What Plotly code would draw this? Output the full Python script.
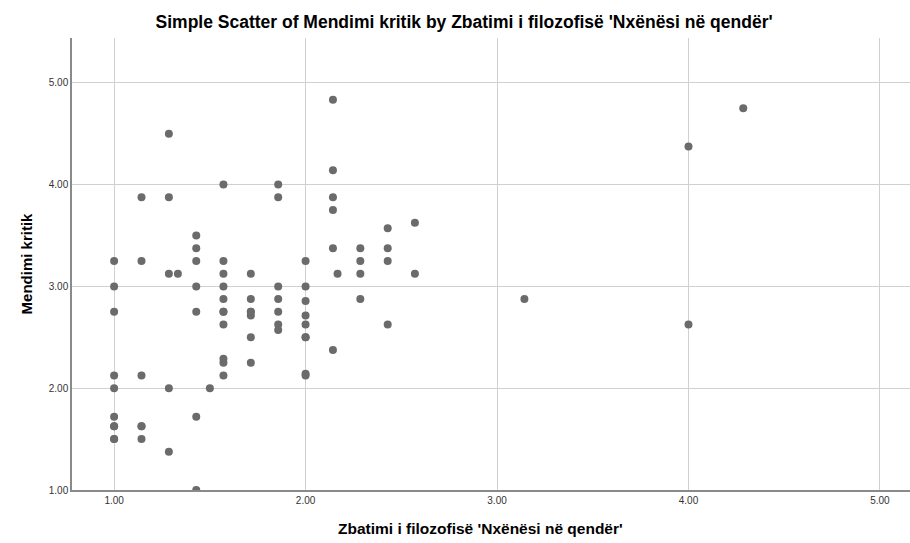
import plotly.graph_objects as go

# Zbatimi i filozofisë 'Nxënësi në qendër' (x) vs Mendimi kritik (y)
zbatimi = [
    1.0, 1.0, 1.0, 1.0, 1.0, 1.0, 1.0, 1.0, 1.0, 1.0,
    1.143, 1.143, 1.143, 1.143, 1.143, 1.143,
    1.286, 1.286, 1.286, 1.286, 1.286,
    1.333,
    1.429, 1.429, 1.429, 1.429, 1.429, 1.429, 1.429,
    1.5,
    1.571, 1.571, 1.571, 1.571, 1.571, 1.571, 1.571, 1.571, 1.571, 1.571, 1.571,
    1.714, 1.714, 1.714, 1.714, 1.714, 1.714, 1.714,
    1.857, 1.857, 1.857, 1.857, 1.857, 1.857, 1.857,
    2.0, 2.0, 2.0, 2.0, 2.0, 2.0, 2.0, 2.0, 2.0,
    2.143, 2.143, 2.143, 2.143, 2.143, 2.143,
    2.167,
    2.286, 2.286, 2.286, 2.286,
    2.429, 2.429, 2.429, 2.429,
    2.571, 2.571,
    3.143,
    4.0, 4.0,
    4.286,
]
mendimi = [
    3.25, 3.0, 2.75, 2.125, 2.0, 1.72, 1.625, 1.5, 1.625, 1.5,
    3.875, 3.25, 2.125, 1.625, 1.5, 1.625,
    4.5, 3.875, 3.125, 2.0, 1.375,
    3.125,
    3.5, 3.375, 3.25, 3.0, 2.75, 1.72, 1.0,
    2.0,
    4.0, 3.25, 3.125, 3.0, 2.875, 2.75, 2.625, 2.29, 2.25, 2.125, 2.75,
    3.125, 2.875, 2.75, 2.714, 2.5, 2.25, 2.75,
    4.0, 3.875, 3.0, 2.875, 2.75, 2.625, 2.571,
    3.25, 3.0, 2.857, 2.714, 2.625, 2.5, 2.143, 2.125, 2.5,
    4.833, 4.14, 3.875, 3.75, 3.375, 2.375,
    3.125,
    3.375, 3.25, 3.125, 2.875,
    3.57, 3.375, 3.25, 2.625,
    3.625, 3.125,
    2.875,
    4.375, 2.625,
    4.75,
]

x_ticks = [1.0, 2.0, 3.0, 4.0, 5.0]
y_ticks = [1.0, 2.0, 3.0, 4.0, 5.0]

fig = go.Figure()
fig.add_trace(go.Scatter(
    x=zbatimi, y=mendimi, mode="markers",
    marker=dict(size=8, color="#6b6b6b", line=dict(width=0)),
    hoverinfo="x+y", showlegend=False,
))

font_main = "Liberation Sans, Arial, sans-serif"

fig.update_layout(
    width=910, height=543,
    margin=dict(l=72, r=0, t=38, b=53),
    paper_bgcolor="white", plot_bgcolor="white",
    font=dict(family=font_main, color="#000000"),
    title=dict(
        text="<b>Simple Scatter of Mendimi kritik by Zbatimi i filozofisë 'Nxënësi në qendër'</b>",
        x=0.51, xref="container", xanchor="center",
        y=1 - 22 / 543, yanchor="middle",
        font=dict(size=17.5, family=font_main, color="#000000"),
    ),
    annotations=[dict(
        text="<b>Zbatimi i filozofisë 'Nxënësi në qendër'</b>",
        xref="paper", yref="paper", x=0.488, y=-38 / 452,
        xanchor="center", yanchor="middle", showarrow=False,
        font=dict(size=15.5, color="#000000"),
    )],
)

fig.update_xaxes(
    range=[0.78, 5.157],
    tickvals=x_ticks, ticktext=[f"{v:.2f}" for v in x_ticks],
    tickfont=dict(size=10, color="#333333"),
    ticks="", showgrid=True, gridcolor="#d0d0d0", gridwidth=1.3,
    showline=True, linecolor="#8a8a8a", linewidth=1.5,
    zeroline=False,
)
fig.update_yaxes(
    range=[1.0, 5.44],
    tickvals=y_ticks, ticktext=[f"{v:.2f}" for v in y_ticks],
    tickfont=dict(size=10, color="#333333"),
    ticks="", showgrid=True, gridcolor="#d0d0d0", gridwidth=1.3,
    showline=True, linecolor="#8a8a8a", linewidth=1.5,
    zeroline=False,
    title=dict(text="<b>Mendimi kritik</b>",
               font=dict(size=15, color="#000000"), standoff=13),
)

fig.write_html("out.html")
